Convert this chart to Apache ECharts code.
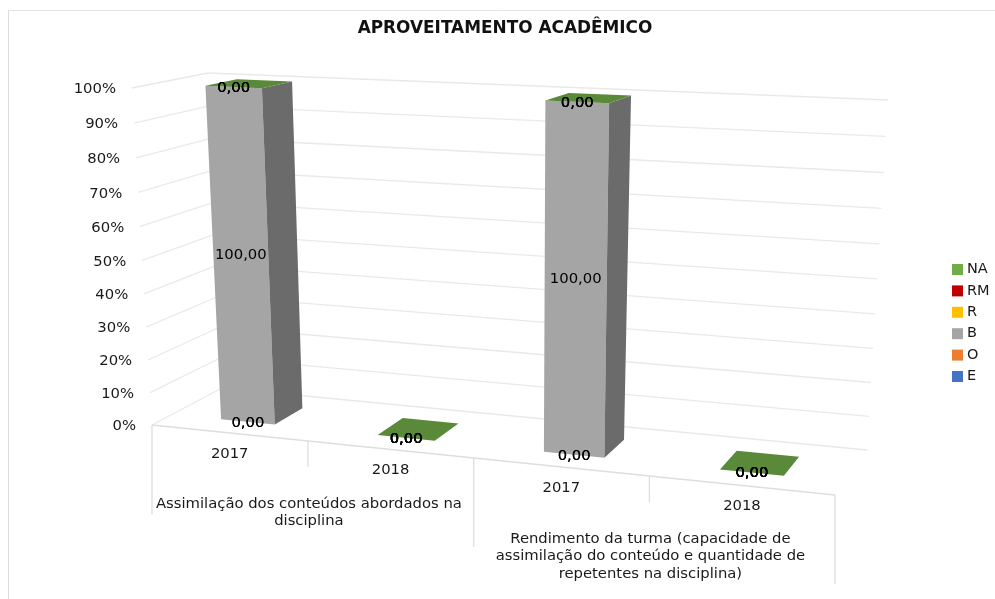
<!DOCTYPE html>
<html>
<head>
<meta charset="utf-8">
<style>html,body{margin:0;padding:0;background:#fff}#c{width:995px;height:599px}</style>
<script src="https://cdn.jsdelivr.net/npm/echarts@6/dist/echarts.min.js"></script>
</head>
<body>
<div id="c"></div>
<script>
// ---- data ----
const categories = ['2017', '2018', '2017', '2018'];
const groupLabels = [
  'Assimilação dos conteúdos abordados na\ndisciplina',
  'Rendimento da turma (capacidade de\nassimilação do conteúdo e quantidade de\nrepetentes na disciplina)'
];
const yTicks = [0, 10, 20, 30, 40, 50, 60, 70, 80, 90, 100];
const valE  = [0, 0, 0, 0];
const valO  = [0, 0, 0, 0];
const valB  = [100, 0, 100, 0];
const valR  = [0, 0, 0, 0];
const valRM = [0, 0, 0, 0];
const valNA = [0, 0, 0, 0];
const stackNames = ['E', 'O', 'B', 'R', 'RM', 'NA'];
const stackValues = [valE, valO, valB, valR, valRM, valNA];
const stackColors = ['#4472C4', '#ED7D31', '#A5A5A5', '#FFC000', '#C00000', '#70AD47'];
const legendOrder = ['NA', 'RM', 'R', 'B', 'O', 'E'];

// ---- view of the 3D box (camera corners of the chart's wall and floor) ----
const FONT = '"DejaVu Sans", sans-serif';
const floorFL = [152, 425], floorFR = [835, 495], floorBL = [222, 388], floorBR = [867, 450];
const riseFL = [-20, -337], riseFR = [16, -375], riseBL = [-14, -315], riseBR = [21, -350];
const BAR_FRAC = 0.35, DEPTH_FRONT = 0.29, DEPTH_BACK = 0.72;
const GRID = { left: 152, top: 88, width: 683, height: 337 };

const mix = (a, b, t) => [a[0] + (b[0] - a[0]) * t, a[1] + (b[1] - a[1]) * t];
const warpU = u => u - 0.116 * u * (1 - u);
const warpW = w => w - 0.045 * w * (1 - w);
function project(u, v, w) {
  const uu = warpU(u), ww = warpW(w);
  const base = mix(mix(floorFL, floorFR, uu), mix(floorBL, floorBR, uu), v);
  const rise = mix(mix(riseFL, riseFR, uu), mix(riseBL, riseBR, uu), v);
  return [base[0] + rise[0] * ww, base[1] + rise[1] * ww];
}
// axis pixel -> unit coordinates of the box
function unit(api, params, cat, val) {
  const r = params.coordSys, p = api.coord([cat, val]);
  return [(p[0] - r.x) / r.width, 1 - (p[1] - r.y) / r.height];
}
function shade(hex, f) {
  const n = parseInt(hex.slice(1), 16);
  const c = s => Math.round(((n >> s) & 255) * f);
  return 'rgb(' + c(16) + ',' + c(8) + ',' + c(0) + ')';
}
const poly = (points, fill) => ({ type: 'polygon', shape: { points }, style: { fill, stroke: null } });
const line = (a, b, stroke, lineWidth) => ({
  type: 'line', shape: { x1: a[0], y1: a[1], x2: b[0], y2: b[1] }, style: { stroke, lineWidth }
});
const txt = (x, y, text, opt) => ({
  type: 'text', x, y,
  style: Object.assign({ text, fill: '#1a1a1a', font: '14.8px ' + FONT, align: 'center', verticalAlign: 'middle' }, opt || {})
});

function stackRows(k) {
  return categories.map((_, i) => {
    let base = 0;
    for (let s = 0; s < k; s++) base += stackValues[s][i];
    return [i, base, base + stackValues[k][i]];
  });
}

function boxItem(color, isTopOfStack) {
  return function (params, api) {
    const c = api.value(0);
    const half = api.size([1, 0])[0] / params.coordSys.width * BAR_FRAC / 2;
    const lo = unit(api, params, c, api.value(1));
    const hi = unit(api, params, c, api.value(2));
    const u0 = lo[0] - half, u1 = lo[0] + half;
    const f0 = project(u0, DEPTH_FRONT, lo[1]), f1 = project(u1, DEPTH_FRONT, lo[1]);
    const f2 = project(u1, DEPTH_FRONT, hi[1]), f3 = project(u0, DEPTH_FRONT, hi[1]);
    const b1 = project(u1, DEPTH_BACK, lo[1]), b2 = project(u1, DEPTH_BACK, hi[1]);
    const b3 = project(u0, DEPTH_BACK, hi[1]);
    const children = [];
    if (api.value(2) > api.value(1)) {
      children.push(poly([f0, f1, f2, f3], color), poly([f1, b1, b2, f2], shade(color, 0.65)));
    }
    if (isTopOfStack) children.push(poly([f3, f2, b2, b3], shade(color, 0.8)));
    return { type: 'group', children };
  };
}
function labelItem(params, api) {
  const c = api.value(0);
  const half = api.size([1, 0])[0] / params.coordSys.width * BAR_FRAC / 2;
  const lo = unit(api, params, c, api.value(1));
  const hi = unit(api, params, c, api.value(2));
  const a = project(lo[0] - half, DEPTH_FRONT, lo[1]), b = project(lo[0] + half, DEPTH_FRONT, lo[1]);
  const d = project(lo[0] - half, DEPTH_FRONT, hi[1]), e = project(lo[0] + half, DEPTH_FRONT, hi[1]);
  const v = api.value(2) - api.value(1);
  return txt((a[0] + b[0] + d[0] + e[0]) / 4, (a[1] + b[1] + d[1] + e[1]) / 4 + 1, v.toFixed(2).replace('.', ','), { fill: '#000' });
}
function frameItem(params, api) {
  const r = params.coordSys, kids = [];
  const band = api.size([1, 0])[0] / r.width;
  const GRIDC = '#E9E9E9', AXISC = '#DEDEDE';
  yTicks.forEach(t => {
    const w = unit(api, params, 0, t)[1];
    const a = project(0, 0, w), b = project(0, 1, w), c = project(1, 1, w);
    kids.push(line(a, b, GRIDC, 1.3), line(b, c, GRIDC, 1.3));
    kids.push(txt(a[0] - 16, a[1] + 1.5, t + '%', { align: 'right' }));
  });
  const fl = project(0, 0, 0), fr = project(1, 0, 0);
  kids.push(line(fl, fr, AXISC, 1.3));
  categories.forEach((name, i) => {
    const mid = unit(api, params, i, 0)[0];
    const right = mid + band / 2, left = mid - band / 2;
    const pc = project(mid, 0, 0);
    kids.push(txt(pc[0] + 1, pc[1] + 21, name));
    const isGroupEnd = i % 2 === 1;
    const pr = project(right, 0, 0);
    kids.push(line(pr, [pr[0], pr[1] + (isGroupEnd ? 89 : 26)], AXISC, 1.3));
    if (i === 0) {
      const pl = project(left, 0, 0);
      kids.push(line(pl, [pl[0], pl[1] + 89], AXISC, 1.3));
    }
    if (isGroupEnd) return;
    const pg = project(right, 0, 0);
    kids.push(txt(pg[0] + 1, pg[1] + 54, groupLabels[i / 2], { verticalAlign: 'top', lineHeight: 17.5 }));
  });
  return { type: 'group', children: kids };
}

const series = [{
  type: 'custom', name: 'frame', coordinateSystem: 'cartesian2d', silent: true, z: 1,
  clip: false, renderItem: frameItem, data: [[0, 0]], encode: { x: 0, y: 1 }
}];
stackNames.forEach((name, k) => {
  series.push({
    type: 'custom', name, coordinateSystem: 'cartesian2d', clip: false, silent: true, z: 2,
    itemStyle: { color: stackColors[k] }, renderItem: boxItem(stackColors[k], k === stackNames.length - 1),
    encode: { x: 0, y: [1, 2] }, data: stackRows(k)
  });
});
stackNames.forEach((name, k) => {
  series.push({
    type: 'custom', name, coordinateSystem: 'cartesian2d', clip: false, silent: true, z: 5,
    itemStyle: { color: stackColors[k] }, renderItem: labelItem,
    encode: { x: 0, y: [1, 2] }, data: stackRows(k)
  });
});

const chart = echarts.init(document.getElementById('c'), null, { renderer: 'canvas' });
chart.setOption({
  animation: false,
  backgroundColor: '#fff',
  title: {
    text: 'APROVEITAMENTO ACADÊMICO', left: 500, top: 15, textAlign: 'center',
    textStyle: { fontFamily: FONT, fontSize: 16.9, fontWeight: 'bold', color: '#111' }
  },
  legend: {
    data: legendOrder, orient: 'vertical', left: 952, top: 262, itemWidth: 11, itemHeight: 11,
    itemGap: 6.4, icon: 'rect', selectedMode: false, padding: 0,
    textStyle: { fontFamily: FONT, fontSize: 14.5, lineHeight: 14, color: '#1a1a1a', padding: [0, 0, 0, -1] }
  },
  grid: GRID,
  xAxis: { type: 'category', data: categories.map((c, i) => c + '#' + i), show: false },
  yAxis: { type: 'value', min: 0, max: 100, interval: 10, show: false },
  graphic: [
    { type: 'line', silent: true, shape: { x1: 8.5, y1: 10.5, x2: 995, y2: 10.5 }, style: { stroke: '#E3E3E3', lineWidth: 1 } },
    { type: 'line', silent: true, shape: { x1: 8.5, y1: 10.5, x2: 8.5, y2: 599 }, style: { stroke: '#DADADA', lineWidth: 1 } }
  ],
  series
});
</script>
</body>
</html>
